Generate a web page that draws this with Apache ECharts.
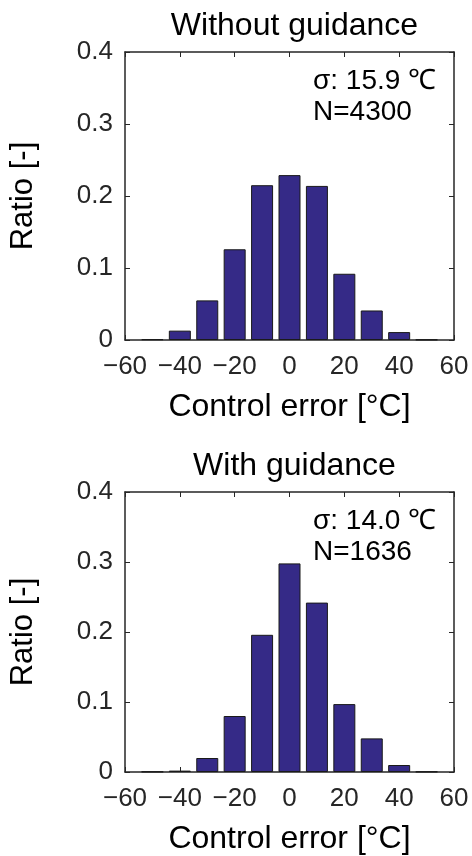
<!DOCTYPE html>
<html>
<head>
<meta charset="utf-8">
<script src="https://cdn.jsdelivr.net/npm/echarts@6/dist/echarts.min.js"></script>
<style>
html,body{margin:0;padding:0;background:#fff;}
#chart{width:472px;height:856px;}
</style>
</head>
<body>
<div id="chart"></div>
<script>
// Data
var binCenters = [-50, -40, -30, -20, -10, 0, 10, 20, 30, 40, 50];
var ratioWithout = [0.001, 0.013, 0.055, 0.126, 0.215, 0.229, 0.214, 0.092, 0.041, 0.011, 0.0005];
var ratioWith = [0.0005, 0.002, 0.020, 0.080, 0.196, 0.298, 0.242, 0.097, 0.048, 0.010, 0.0005];
var panelTitles = ['Without guidance', 'With guidance'];
var sigmaLabels = ['σ: 15.9 ℃', 'σ: 14.0 ℃'];
var countLabels = ['N=4300', 'N=1636'];
var xTickLabels = ['−60', '−40', '−20', '0', '20', '40', '60'];
var yTickLabels = ['0', '0.1', '0.2', '0.3', '0.4'];
var xName = 'Control error [°C]';
var yName = 'Ratio [-]';

var FONT = '"Liberation Sans", Arial, sans-serif';
var AX = '#262626';
var grids = [
  {left: 125, width: 329, top: 52, height: 288},
  {left: 125, width: 329, top: 492, height: 284}
];

function toPairs(xs, ys){ return xs.map(function(x,i){ return [x, ys[i]]; }); }
var seriesData = [toPairs(binCenters, ratioWithout), toPairs(binCenters, ratioWith)];

var lineCfg = {show:true, onZero:false, lineStyle:{color:AX, width:1.5}};
var tickCfg = {show:true, inside:true, length:5, lineStyle:{color:AX}};

var xAxes = [], yAxes = [], series = [], titles = [];
grids.forEach(function(g, gi){
  xAxes.push({
    type:'value', gridIndex: gi, position:'bottom', min:-60, max:60, interval:20,
    axisLine:lineCfg, axisTick:tickCfg, splitLine:{show:false},
    axisLabel:{color:AX, fontFamily:FONT, fontSize:26, margin:14,
      formatter:function(v){ return xTickLabels[Math.round((v+60)/20)]; }},
    name: xName, nameLocation:'middle', nameGap:51,
    nameTextStyle:{color:'#000', fontFamily:FONT, fontSize:32}
  });
  xAxes.push({
    type:'value', gridIndex: gi, position:'top', min:-60, max:60, interval:20,
    axisLine:lineCfg, axisTick:tickCfg,
    axisLabel:{show:false}, splitLine:{show:false}
  });
  yAxes.push({
    type:'value', gridIndex: gi, position:'left', min:0, max:0.4, interval:0.1,
    axisLine:lineCfg, axisTick:tickCfg, splitLine:{show:false},
    axisLabel:{color:AX, fontFamily:FONT, fontSize:26, margin:12,
      formatter:function(v){ return yTickLabels[Math.round(v*10)]; }},
    name: yName, nameLocation:'middle', nameGap:86,
    nameTextStyle:{color:'#000', fontFamily:FONT, fontSize:31}
  });
  yAxes.push({
    type:'value', gridIndex: gi, position:'right', min:0, max:0.4, interval:0.1,
    axisLine:lineCfg, axisTick:tickCfg,
    axisLabel:{show:false}, splitLine:{show:false}
  });
  series.push({
    type:'bar', xAxisIndex: gi*2, yAxisIndex: gi*2, data: seriesData[gi],
    barWidth: 22,
    itemStyle:{color:'#352a87', borderColor:'#1a1a1a', borderWidth:1},
    silent:true
  });
  titles.push({
    text: panelTitles[gi], left: g.left + g.width/2, textAlign:'center',
    top: g.top - 47,
    textStyle:{color:'#000', fontFamily:FONT, fontSize:32, fontWeight:'normal'}
  });
  titles.push({
    text: sigmaLabels[gi] + '\n' + countLabels[gi], left: 308, top: g.top + 9,
    textStyle:{color:'#000', fontFamily:FONT, fontSize:28, fontWeight:'normal', lineHeight:31}
  });
});

var chart = echarts.init(document.getElementById('chart'), null, {renderer:'canvas'});
chart.setOption({
  animation:false,
  backgroundColor:'#fff',
  title: titles,
  grid: grids.map(function(g){ return Object.assign({containLabel:false}, g); }),
  xAxis: xAxes,
  yAxis: yAxes,
  series: series
});
</script>
</body>
</html>
